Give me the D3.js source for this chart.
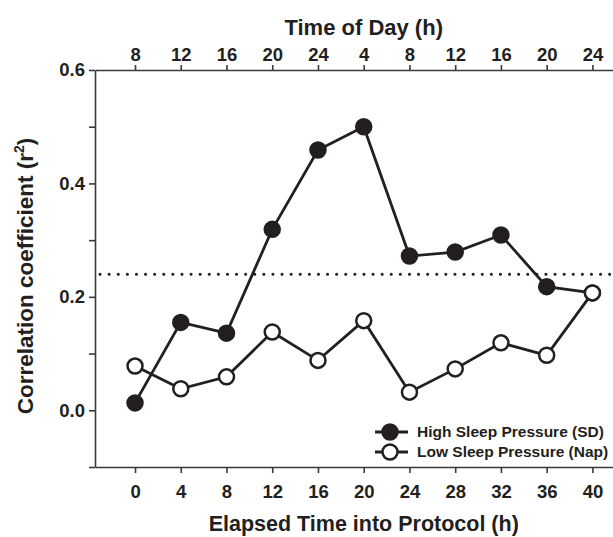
<!DOCTYPE html>
<html lang="en">
<head>
    <meta charset="UTF-8">
    <title>Correlation coefficient</title>
    <script src="https://d3js.org/d3.v7.min.js"></script>
    <style>
        body { margin: 0; background: #fff; }
        svg { display: block; }
        text { font-family: "Liberation Sans", Arial, sans-serif; font-weight: bold; fill: #231f20; }
        .axis path, .axis line { stroke: #3a3a3a; stroke-width: 1.6px; }
    </style>
</head>
<body>
    <svg id="svg" width="613" height="537"></svg>
    <script>
        // elapsed hours into protocol
        const hours = [0, 4, 8, 12, 16, 20, 24, 28, 32, 36, 40];
        // time of day labels for the top axis
        const timeOfDay = ["8", "12", "16", "20", "24", "4", "8", "12", "16", "20", "24"];
        // high sleep pressure (SD) r^2
        const sd = [0.013, 0.155, 0.136, 0.319, 0.459, 0.50, 0.272, 0.279, 0.309, 0.218, 0.207];
        // low sleep pressure (Nap) r^2
        const nap = [0.078, 0.038, 0.059, 0.138, 0.088, 0.158, 0.032, 0.073, 0.119, 0.097, 0.207];
        const threshold = 0.24;
        const yMajor = [0.0, 0.2, 0.4, 0.6];
        const yAll = [-0.1, 0.0, 0.1, 0.2, 0.3, 0.4, 0.5, 0.6];

        const svg = d3.select("#svg");

        const x = d3.scaleLinear().domain([-3.5, 41.8]).range([95, 613]);
        const y = d3.scaleLinear().domain([-0.1, 0.6]).range([467, 70]);

        // bottom axis
        svg.append("g")
            .attr("class", "axis")
            .attr("transform", `translate(0,${y(-0.1)})`)
            .call(d3.axisBottom(x).tickValues(hours).tickSize(6).tickSizeOuter(0).tickPadding(12))
            .call(g => g.selectAll("text").attr("font-size", 18.5));

        // top axis (time of day)
        svg.append("g")
            .attr("class", "axis")
            .attr("transform", `translate(0,${y(0.6)})`)
            .call(d3.axisTop(x).tickValues(hours).tickSize(5).tickSizeOuter(0).tickPadding(4)
                .tickFormat((d, i) => timeOfDay[i]))
            .call(g => g.selectAll("text").attr("font-size", 18.5));

        // left axis, minor ticks unlabeled
        svg.append("g")
            .attr("class", "axis")
            .attr("transform", `translate(${x.range()[0]},0)`)
            .call(d3.axisLeft(y).tickValues(yAll).tickSize(6).tickSizeOuter(0).tickPadding(4)
                .tickFormat(d => yMajor.some(v => Math.abs(v - d) < 1e-9) ? d3.format(".1f")(d) : ""))
            .call(g => g.selectAll("text").attr("font-size", 18.5));

        svg.selectAll(".axis").attr("font-family", null);

        // threshold dotted line
        svg.append("line")
            .attr("x1", 100).attr("x2", 613)
            .attr("y1", y(threshold)).attr("y2", y(threshold))
            .attr("stroke", "#231f20")
            .attr("stroke-width", 3)
            .attr("stroke-linecap", "round")
            .attr("stroke-dasharray", "0.1 9");

        const line = d3.line().x((d, i) => x(hours[i])).y(d => y(d));

        const series = [
            {name: "High Sleep Pressure (SD)", values: sd, fill: "#231f20"},
            {name: "Low Sleep Pressure (Nap)", values: nap, fill: "#fff"}
        ];

        series.forEach(s => {
            svg.append("path")
                .datum(s.values)
                .attr("fill", "none")
                .attr("stroke", "#231f20")
                .attr("stroke-width", 2.8)
                .attr("d", line);
        });

        // filled first, open on top (open marker covers the shared point at 40 h)
        series.forEach(s => {
            svg.append("g")
                .selectAll("circle")
                .data(s.values)
                .enter().append("circle")
                .attr("cx", (d, i) => x(hours[i]))
                .attr("cy", d => y(d))
                .attr("r", 7.5)
                .attr("fill", s.fill)
                .attr("stroke", "#231f20")
                .attr("stroke-width", 2.5);
        });

        // legend
        const legend = svg.append("g").attr("transform", "translate(375,432)");
        series.forEach((s, i) => {
            const g = legend.append("g").attr("transform", `translate(0,${i * 20})`);
            g.append("line").attr("x1", 0).attr("x2", 33).attr("y1", 0).attr("y2", 0)
                .attr("stroke", "#231f20").attr("stroke-width", 2.8);
            g.append("circle").attr("cx", 15).attr("cy", 0).attr("r", 7.5)
                .attr("fill", s.fill).attr("stroke", "#231f20").attr("stroke-width", 2.5);
            g.append("text").attr("x", 42).attr("y", 0).attr("dy", "0.35em")
                .attr("font-size", 15.5).text(s.name);
        });

        // titles
        svg.append("text")
            .attr("x", x(20)).attr("y", 27).attr("dy", "0.35em")
            .attr("text-anchor", "middle").attr("font-size", 22)
            .text("Time of Day (h)");

        svg.append("text")
            .attr("x", x(20)).attr("y", 523).attr("dy", "0.35em")
            .attr("text-anchor", "middle").attr("font-size", 21.5)
            .text("Elapsed Time into Protocol (h)");

        const ylab = svg.append("text")
            .attr("transform", "translate(25,276) rotate(-90)")
            .attr("dy", "0.35em")
            .attr("text-anchor", "middle").attr("font-size", 22.5);
        ylab.append("tspan").text("Correlation coefficient (r");
        ylab.append("tspan").attr("font-size", 14).attr("dy", "-0.6em").text("2");
        ylab.append("tspan").attr("dy", "0.38em").text(")");
    </script>
</body>
</html>
